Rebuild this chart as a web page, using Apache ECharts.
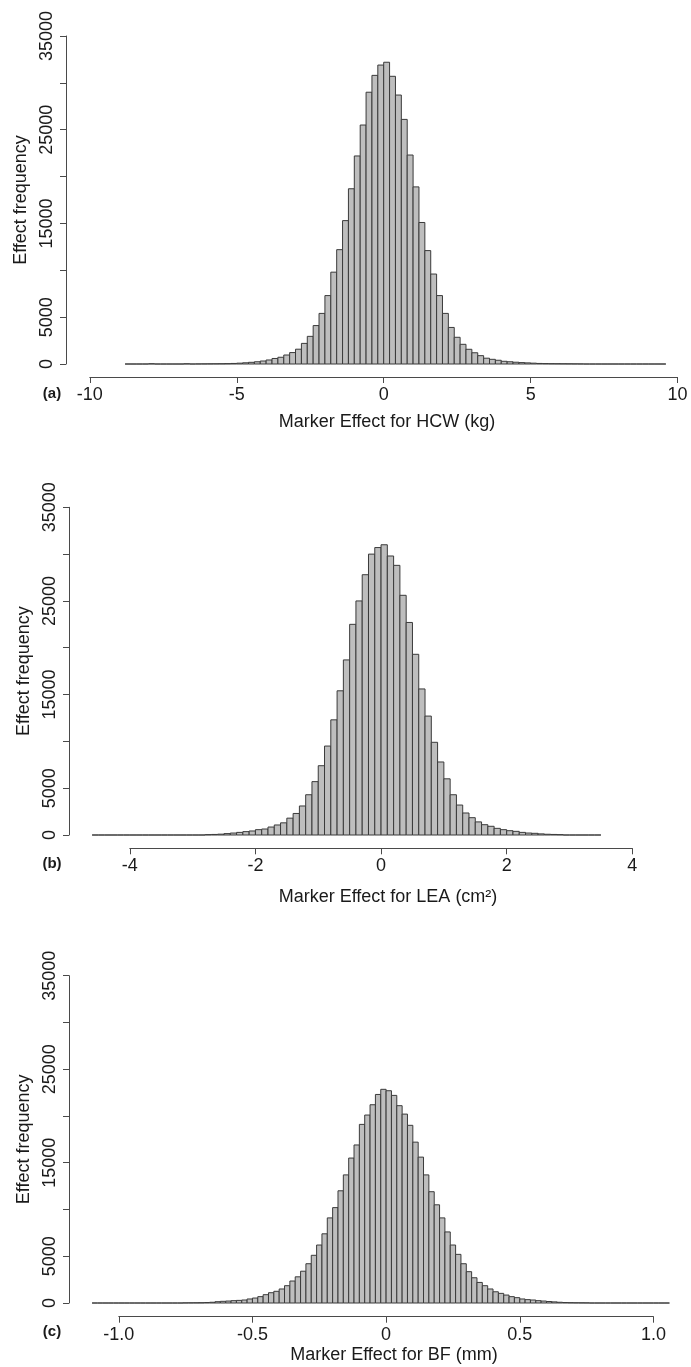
<!doctype html>
<html>
<head>
<meta charset="UTF-8">
<title>Marker effect histograms</title>
<script src="https://cdn.jsdelivr.net/npm/echarts@6/dist/echarts.min.js"></script>
<style>
  html, body { margin: 0; padding: 0; background: #fff; }
  #main { width: 691px; height: 1367px; }
</style>
</head>
<body>
<div id="main"></div>
<script type="text/javascript">
// histogram counts (bin start, bin width, counts)
var hcwStart = -8.8, hcwWidth = 0.2;
var hcwCounts = [0, 0, 0, 0, 30, 0, 0, 0, 0, 0,
  25, 0, 10, 15, 20, 25, 30, 40, 60, 90,
  130, 180, 240, 320, 430, 590, 720, 960, 1220, 1580,
  2200, 2950, 4100, 5400, 7300, 9800, 12200, 15300, 18700, 22200,
  25500, 29000, 30800, 31900, 32200, 30700, 28700, 26100, 22300, 18900,
  15100, 12100, 9600, 7300, 5400, 3900, 2850, 2100, 1570, 1200,
  890, 620, 500, 400, 290, 240, 190, 150, 120, 90,
  60, 45, 35, 30, 25, 20, 15, 10, 0, 0,
  0, 0, 0, 0, 0, 0, 0, 0, 0, 0, 0, 0];

var leaStart = -4.6, leaWidth = 0.1;
var leaCounts = [0, 0, 0, 0, 0, 0, 0, 0, 0, 0,
  0, 0, 0, 0, 0, 0, 0, 0, 40, 60,
  90, 150, 210, 280, 360, 430, 570, 640, 850, 1070,
  1300, 1800, 2300, 3100, 4300, 5700, 7400, 9500, 12300, 15400,
  18700, 22500, 25000, 27800, 30000, 30700, 31000, 29800, 28800, 25600,
  22700, 19300, 15600, 12700, 9900, 7800, 6000, 4300, 3200, 2350,
  1850, 1400, 1100, 930, 710, 570, 460, 390, 280, 210,
  180, 120, 80, 60, 40, 0, 0, 0, 0, 0, 0];

var bfStart = -1.10, bfWidth = 0.02;
var bfCounts = [0, 0, 0, 0, 0, 0, 0, 0, 0, 0,
  0, 0, 0, 0, 0, 0, 0, 15, 20, 25,
  30, 50, 80, 140, 180, 210, 250, 280, 320, 430,
  530, 680, 890, 1100, 1250, 1500, 1850, 2350, 2800, 3400,
  4200, 5100, 6200, 7400, 9100, 10200, 12000, 13700, 15500, 16900,
  19100, 20100, 21200, 22300, 22850, 22700, 22200, 21100, 20200, 19000,
  17200, 15600, 13700, 11900, 10500, 9100, 7600, 6200, 5200, 4200,
  3350, 2700, 2200, 1850, 1500, 1200, 1030, 850, 680, 570,
  430, 360, 320, 250, 210, 160, 120, 80, 50, 35,
  25, 20, 15, 0, 0, 0, 0, 0, 0, 0,
  0, 0, 0, 0, 0, 0, 0, 0];

var panelLabels = ['(a)', '(b)', '(c)'];
var xTitles = ['Marker Effect for HCW (kg)', 'Marker Effect for LEA (cm\u00b2)', 'Marker Effect for BF (mm)'];
var yTitle = 'Effect frequency';

function toBins(start, width, counts) {
  return counts.map(function (c, i) {
    var x0 = +(start + i * width).toFixed(4);
    return [x0, +(x0 + width).toFixed(4), c];
  });
}

var FONT = 'Arial, "Liberation Sans", sans-serif';
var TXT = '#1a1a1a';
var AX = '#4a4a4a';

// pixel layout of the three panels
var panels = [
  { left: 89.8, right: 691 - 677.6, top: 36, bottom: 1367 - 364, axisX: 66, axisY: 377,
    min: -10, max: 10, interval: 5, titleX: 387, titleY: 422, tagY: 394 },
  { left: 129.8, right: 691 - 632.3, top: 507.3, bottom: 1367 - 835, axisX: 69, axisY: 848.3,
    min: -4, max: 4, interval: 2, titleX: 388, titleY: 897, tagY: 864 },
  { left: 118.8, right: 691 - 653.4, top: 975.7, bottom: 1367 - 1303, axisX: 69, axisY: 1316.7,
    min: -1, max: 1, interval: 0.5, titleX: 394, titleY: 1355, tagY: 1332 }
];

var binsList = [
  toBins(hcwStart, hcwWidth, hcwCounts),
  toBins(leaStart, leaWidth, leaCounts),
  toBins(bfStart, bfWidth, bfCounts)
];

function renderItem(params, api) {
  var p0 = api.coord([api.value(0), api.value(2)]);
  var p1 = api.coord([api.value(1), 0]);
  return {
    type: 'rect',
    shape: { x: p0[0], y: p0[1], width: p1[0] - p0[0], height: p1[1] - p0[1] },
    style: { fill: '#bebebe', stroke: '#3a3a3a', lineWidth: 1 }
  };
}

var myChart = echarts.init(document.getElementById('main'), null, { renderer: 'canvas' });

var option = {
  backgroundColor: '#fff',
  animation: false,
  grid: [], xAxis: [], yAxis: [], series: [], graphic: []
};

panels.forEach(function (p, k) {
  option.grid.push({ left: p.left, right: p.right, top: p.top, bottom: p.bottom, containLabel: false });
  option.xAxis.push({
    type: 'value', gridIndex: k, min: p.min, max: p.max, interval: p.interval,
    offset: p.axisY - (1367 - p.bottom),
    axisLine: { show: true, onZero: false, lineStyle: { color: AX, width: 1 } },
    axisTick: { show: true, length: 6, lineStyle: { color: AX } },
    splitLine: { show: false },
    axisLabel: {
      margin: 9, fontSize: 18, color: TXT, fontFamily: FONT,
      formatter: function (v) {
        if (v === 0) return '0';
        return k === 2 ? v.toFixed(1) : String(v);
      }
    }
  });
  option.yAxis.push({
    type: 'value', gridIndex: k, min: 0, max: 35000, interval: 5000,
    offset: p.left - p.axisX,
    name: yTitle, nameLocation: 'middle', nameGap: 33,
    nameTextStyle: { fontSize: 18, color: TXT, fontFamily: FONT },
    axisLine: { show: true, onZero: false, lineStyle: { color: AX, width: 1 } },
    axisTick: { show: true, length: 6, lineStyle: { color: AX } },
    splitLine: { show: false },
    axisLabel: {
      rotate: 90, margin: 10, fontSize: 18, color: TXT, fontFamily: FONT,
      formatter: function (v) {
        return (v === 10000 || v === 20000 || v === 30000) ? '' : String(v);
      }
    }
  });
  option.series.push({
    type: 'custom', xAxisIndex: k, yAxisIndex: k, clip: false,
    renderItem: renderItem,
    encode: { x: [0, 1], y: 2 },
    data: binsList[k]
  });
  option.graphic.push({
    type: 'text', x: p.titleX, y: p.titleY,
    style: { text: xTitles[k], font: '18px ' + FONT, fill: TXT, textAlign: 'center', textVerticalAlign: 'middle' }
  });
  option.graphic.push({
    type: 'text', x: 52, y: p.tagY,
    style: { text: panelLabels[k], font: 'bold 15px ' + FONT, fill: TXT, textAlign: 'center', textVerticalAlign: 'middle' }
  });
});

myChart.setOption(option);
</script>
</body>
</html>
